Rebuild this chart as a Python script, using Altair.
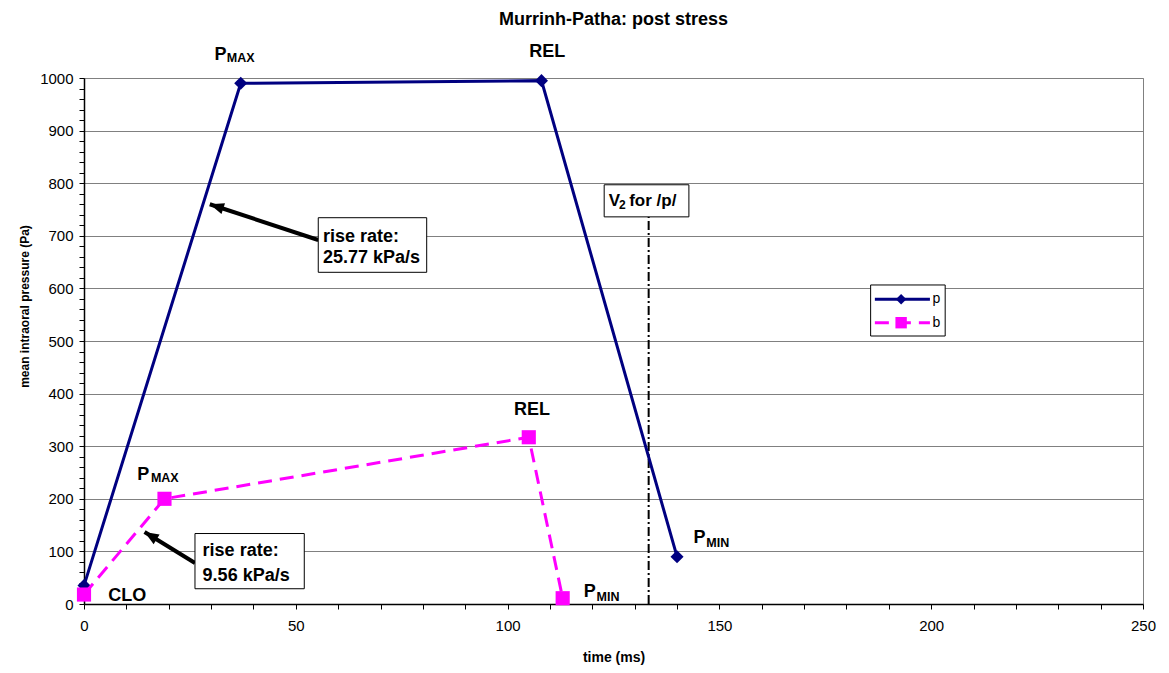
import math
import altair as alt
import pandas as pd

# ---------------- data ----------------
p_time = [0, 37, 108, 140]
p_pressure = [35, 990, 995, 90]
b_time = [0, 19, 105, 113]
b_pressure = [18, 200, 317, 11]

v2_time = 133.3
v2_top = 736

# annotation boxes (time range, pressure range)
box_t1 = [55.3, 26.2, 122.8]
box_t2 = [80.9, 52.0, 142.8]
box_p1 = [630.6, 29.0, 736]
box_p2 = [734.4, 134.0, 797]

# arrows
arrow_tail_t = [55.3, 26.2]
arrow_tail_p = [692, 78]
arrow_tip_t = [29.7, 14.3]
arrow_tip_p = [760, 137]

# bold annotation texts
ann_text = ["P", "MAX", "REL", "P", "MIN",
            "P", "MAX", "REL", "P", "MIN", "CLO",
            "rise rate:", "25.77 kPa/s", "rise rate:", "9.56 kPa/s",
            "V", "2", "for /p/"]
ann_t = [30.8, 33.7, 105.1, 143.9, 146.9,
         12.6, 15.8, 101.5, 118.0, 121.0, 5.7,
         56.4, 56.4, 28.0, 28.0,
         123.9, 126.3, 128.7]
ann_p = [1035, 1030, 1039, 116, 108.5,
         236, 232, 360, 12.7, 6.4, 6.4,
         688.8, 647.7, 92, 44.6,
         757, 750.6, 757]
ann_size = [18, 12.5, 18, 18, 12.5,
            18, 12.5, 18, 18, 12.5, 18,
            18, 18, 18, 18,
            17, 12, 17]

# legend (drawn inside the plot)
legend_series = ["p", "b"]
legend_box_t = [185.7, 203.3]
legend_box_p = [509.5, 606.5]
legend_line_t = [186.7, 199.7]
legend_mark_t = 192.9
legend_text_t = 200.3
legend_p = [579.3, 534.8]

W, H = 1059, 526
T_MAX, P_MAX = 250, 1000
FONT = "Liberation Sans"
NAVY = "#000080"
MAGENTA = "#FF00FF"

xs = alt.Scale(domain=[0, T_MAX], nice=False, zero=False)
ys = alt.Scale(domain=[0, P_MAX], nice=False, zero=False)

x_axis = alt.Axis(
    values=list(range(0, 251, 10)),
    labelExpr="datum.value % 50 === 0 ? datum.label : ''",
    format="d",
    title="time (ms)",
    grid=False,
    tickSize=5,
    tickColor="black",
    tickWidth=1,
    domainColor="black",
    domainWidth=1.5,
    labelFont=FONT,
    labelFontSize=15,
    labelColor="black",
    labelPadding=9,
    labelFlush=False,
    titleFont=FONT,
    titleFontSize=14,
    titleFontWeight="bold",
    titleColor="black",
    titleY=57,
    titleBaseline="alphabetic",
)

y_axis = alt.Axis(
    values=list(range(0, 1001, 20)),
    labelExpr="datum.value % 100 === 0 ? datum.label : ''",
    format="d",
    title="mean intraoral pressure (Pa)",
    grid=True,
    gridColor="#808080",
    gridWidth=1,
    gridOpacity={"condition": {"test": "datum.value % 100 === 0", "value": 1}, "value": 0},
    tickSize=5,
    tickColor="black",
    domainColor="black",
    domainWidth=1.5,
    labelFont=FONT,
    labelFontSize=15,
    labelColor="black",
    labelPadding=6,
    titleFont=FONT,
    titleFontSize=12,
    titleFontWeight="bold",
    titleColor="black",
    titleAngle=270,
    titleX=-56,
    titleY=228,
    titleAlign="center",
    titleBaseline="alphabetic",
)


def X(field):
    return alt.X(field, type="quantitative", scale=xs, axis=x_axis)


def Y(field):
    return alt.Y(field, type="quantitative", scale=ys, axis=y_axis)


# ---------------- data frames ----------------
p_df = pd.DataFrame({"t": p_time, "pr": p_pressure, "series": "p"})
b_df = pd.DataFrame({"t": b_time, "pr": b_pressure, "series": "b"})
v2_df = pd.DataFrame({"t": [v2_time], "p0": [0], "p1": [v2_top]})
box_df = pd.DataFrame({"t1": box_t1, "t2": box_t2, "p1": box_p1, "p2": box_p2})

angles = []
for tt, tp, ht, hp in zip(arrow_tail_t, arrow_tail_p, arrow_tip_t, arrow_tip_p):
    dx = (ht - tt) * W / T_MAX
    dy_up = (hp - tp) * H / P_MAX
    angles.append(math.degrees(math.atan2(dx, dy_up)) % 360)
arrow_df = pd.DataFrame({"t1": arrow_tail_t, "p1": arrow_tail_p,
                         "t2": arrow_tip_t, "p2": arrow_tip_p, "ang": angles})
ann_df = pd.DataFrame({"t": ann_t, "pr": ann_p, "label": ann_text, "fs": ann_size})

leg_box_df = pd.DataFrame({"t1": [legend_box_t[0]], "t2": [legend_box_t[1]],
                           "p1": [legend_box_p[0]], "p2": [legend_box_p[1]]})
leg_line_df = pd.DataFrame({"t1": legend_line_t[0], "t2": legend_line_t[1],
                            "pr": legend_p, "series": legend_series})
leg_mark_df = pd.DataFrame({"t": legend_mark_t, "pr": legend_p, "series": legend_series})
leg_text_df = pd.DataFrame({"t": legend_text_t, "pr": legend_p, "series": legend_series})

# ---------------- layers ----------------
v2_rule = alt.Chart(v2_df).mark_rule(
    color="black", strokeWidth=2, strokeDash=[9, 3, 2, 3]
).encode(x=X("t"), y=Y("p0"), y2="p1")

p_line = alt.Chart(p_df).mark_line(color=NAVY, strokeWidth=3).encode(x=X("t"), y=Y("pr"))
p_pts = alt.Chart(p_df).mark_point(
    shape="diamond", filled=True, size=170, color=NAVY, opacity=1
).encode(x=X("t"), y=Y("pr"))

b_line = alt.Chart(b_df).mark_line(
    color=MAGENTA, strokeWidth=3, strokeDash=[14, 8]
).encode(x=X("t"), y=Y("pr"))
b_pts = alt.Chart(b_df).mark_point(
    shape="square", filled=True, size=200, color=MAGENTA, opacity=1
).encode(x=X("t"), y=Y("pr"))

arrow_shaft = alt.Chart(arrow_df).mark_rule(
    color="black", strokeWidth=4, strokeCap="butt"
).encode(x=X("t1"), y=Y("p1"), x2="t2", y2="p2")
arrow_head = alt.Chart(arrow_df).mark_point(
    shape="M0,0L-0.8,2L0.8,2Z", filled=True, size=200, color="black", opacity=1
).encode(x=X("t2"), y=Y("p2"), angle=alt.Angle("ang:Q", scale=None))

boxes = alt.Chart(box_df).mark_rect(
    fill="white", stroke="black", strokeWidth=1
).encode(x=X("t1"), x2="t2", y=Y("p1"), y2="p2")

ann = alt.Chart(ann_df).mark_text(
    align="left", baseline="alphabetic", font=FONT, fontWeight="bold", color="black"
).encode(x=X("t"), y=Y("pr"), text="label:N",
         size=alt.Size("fs:Q", scale=None, legend=None))

leg_box = alt.Chart(leg_box_df).mark_rect(
    fill="white", stroke="black", strokeWidth=1
).encode(x=X("t1"), x2="t2", y=Y("p1"), y2="p2")

series_color = alt.Color("series:N", scale=alt.Scale(domain=legend_series, range=[NAVY, MAGENTA]),
                         legend=None)
leg_lines = alt.Chart(leg_line_df).mark_rule(strokeWidth=3).encode(
    x=X("t1"), x2="t2", y=Y("pr"), color=series_color,
    strokeDash=alt.StrokeDash("series:N",
                              scale=alt.Scale(domain=legend_series, range=[[1, 0], [14, 8]]),
                              legend=None),
)
leg_marks = alt.Chart(leg_mark_df).mark_point(filled=True, opacity=1).encode(
    x=X("t"), y=Y("pr"), color=series_color,
    shape=alt.Shape("series:N", scale=alt.Scale(domain=legend_series, range=["diamond", "square"]),
                    legend=None),
    size=alt.Size("series:N", scale=alt.Scale(domain=legend_series, range=[110, 130]), legend=None),
)
leg_text = alt.Chart(leg_text_df).mark_text(
    align="left", baseline="middle", font=FONT, fontSize=14, color="black"
).encode(x=X("t"), y=Y("pr"), text="series:N")

chart = alt.layer(
    v2_rule, p_line, p_pts, b_line, b_pts,
    arrow_shaft, arrow_head, boxes, ann,
    leg_box, leg_lines, leg_marks, leg_text,
).resolve_scale(
    color="independent", shape="independent", size="independent", strokeDash="independent"
).properties(
    width=W,
    height=H,
    autosize=alt.AutoSizeParams(type="none"),
    padding={"left": 84, "top": 78, "right": 26, "bottom": 69},
    title=alt.TitleParams(
        "Murrinh-Patha: post stress",
        font=FONT, fontSize=18, fontWeight="bold", color="black",
        anchor="middle", frame="group", baseline="alphabetic", offset=0,
    ),
    background="white",
).configure_view(stroke="#808080", strokeWidth=1)

chart.save("out.html", embed_options={"renderer": "svg", "actions": False})
